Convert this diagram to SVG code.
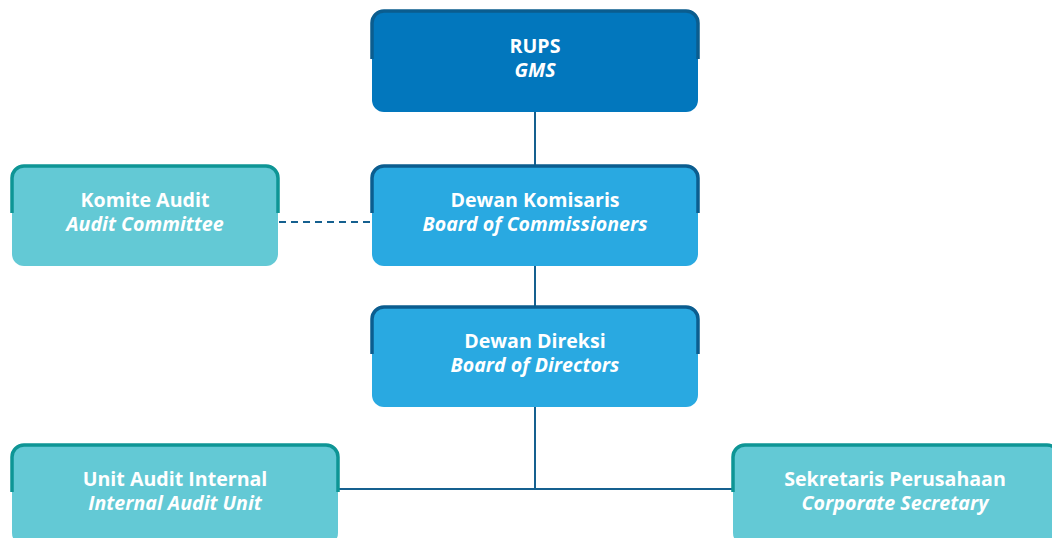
<svg xmlns="http://www.w3.org/2000/svg" width="1052" height="538" viewBox="0 0 1052 538">
<style>
.t{font-family:"Open Sans","Noto Sans","Liberation Sans",sans-serif;font-size:19.6px;font-weight:700;fill:#ffffff;text-anchor:middle}
.i{font-style:italic}
.conn{stroke:#15608f;stroke-width:2;fill:none}
.dash{stroke-dasharray:7 5}
.b1{fill:#0277bd}
.b2{fill:#29a9e1}
.b3{fill:#63c9d5}
.s1{fill:none;stroke:#0b5d8f;stroke-width:3.5}
.s3{fill:none;stroke:#0e9595;stroke-width:3.5}
</style>
<rect width="1052" height="538" fill="#ffffff"/>
<g id="connectors">
<line class="conn" x1="535" y1="111" x2="535" y2="167"/>
<line class="conn" x1="535" y1="266" x2="535" y2="308"/>
<line class="conn" x1="535" y1="406" x2="535" y2="489"/>
<line class="conn" x1="338" y1="489" x2="733" y2="489"/>
<line class="conn dash" x1="279" y1="222" x2="372" y2="222"/>
</g>
<g id="rups">
<rect class="b1" x="372" y="11" width="326" height="101" rx="12"/>
<path class="s1" d="M372,59 V23 A12,12 0 0 1 384,11 H686 A12,12 0 0 1 698,23 V59"/>
<text class="t" x="535" y="53">RUPS</text>
<text class="t i" x="535" y="77">GMS</text>
</g>
<g id="komisaris">
<rect class="b2" x="372" y="166" width="326" height="100" rx="12"/>
<path class="s1" d="M372,213 V178 A12,12 0 0 1 384,166 H686 A12,12 0 0 1 698,178 V213"/>
<text class="t" x="535" y="207">Dewan Komisaris</text>
<text class="t i" x="535" y="231">Board of Commissioners</text>
</g>
<g id="komite">
<rect class="b3" x="12" y="166" width="266" height="100" rx="12"/>
<path class="s3" d="M12,213 V178 A12,12 0 0 1 24,166 H266 A12,12 0 0 1 278,178 V213"/>
<text class="t" x="145" y="207">Komite Audit</text>
<text class="t i" x="145" y="231">Audit Committee</text>
</g>
<g id="direksi">
<rect class="b2" x="372" y="307" width="326" height="100" rx="12"/>
<path class="s1" d="M372,354 V319 A12,12 0 0 1 384,307 H686 A12,12 0 0 1 698,319 V354"/>
<text class="t" x="535" y="348">Dewan Direksi</text>
<text class="t i" x="535" y="372">Board of Directors</text>
</g>
<g id="audit-internal">
<rect class="b3" x="12" y="445" width="326" height="100" rx="12"/>
<path class="s3" d="M12,492 V457 A12,12 0 0 1 24,445 H326 A12,12 0 0 1 338,457 V492"/>
<text class="t" x="175" y="486">Unit Audit Internal</text>
<text class="t i" x="175" y="510">Internal Audit Unit</text>
</g>
<g id="sekretaris">
<rect class="b3" x="733" y="445" width="326" height="100" rx="12"/>
<path class="s3" d="M733,492 V457 A12,12 0 0 1 745,445 H1047 A12,12 0 0 1 1059,457 V492"/>
<text class="t" x="895" y="486">Sekretaris Perusahaan</text>
<text class="t i" x="895" y="510">Corporate Secretary</text>
</g>
</svg>
